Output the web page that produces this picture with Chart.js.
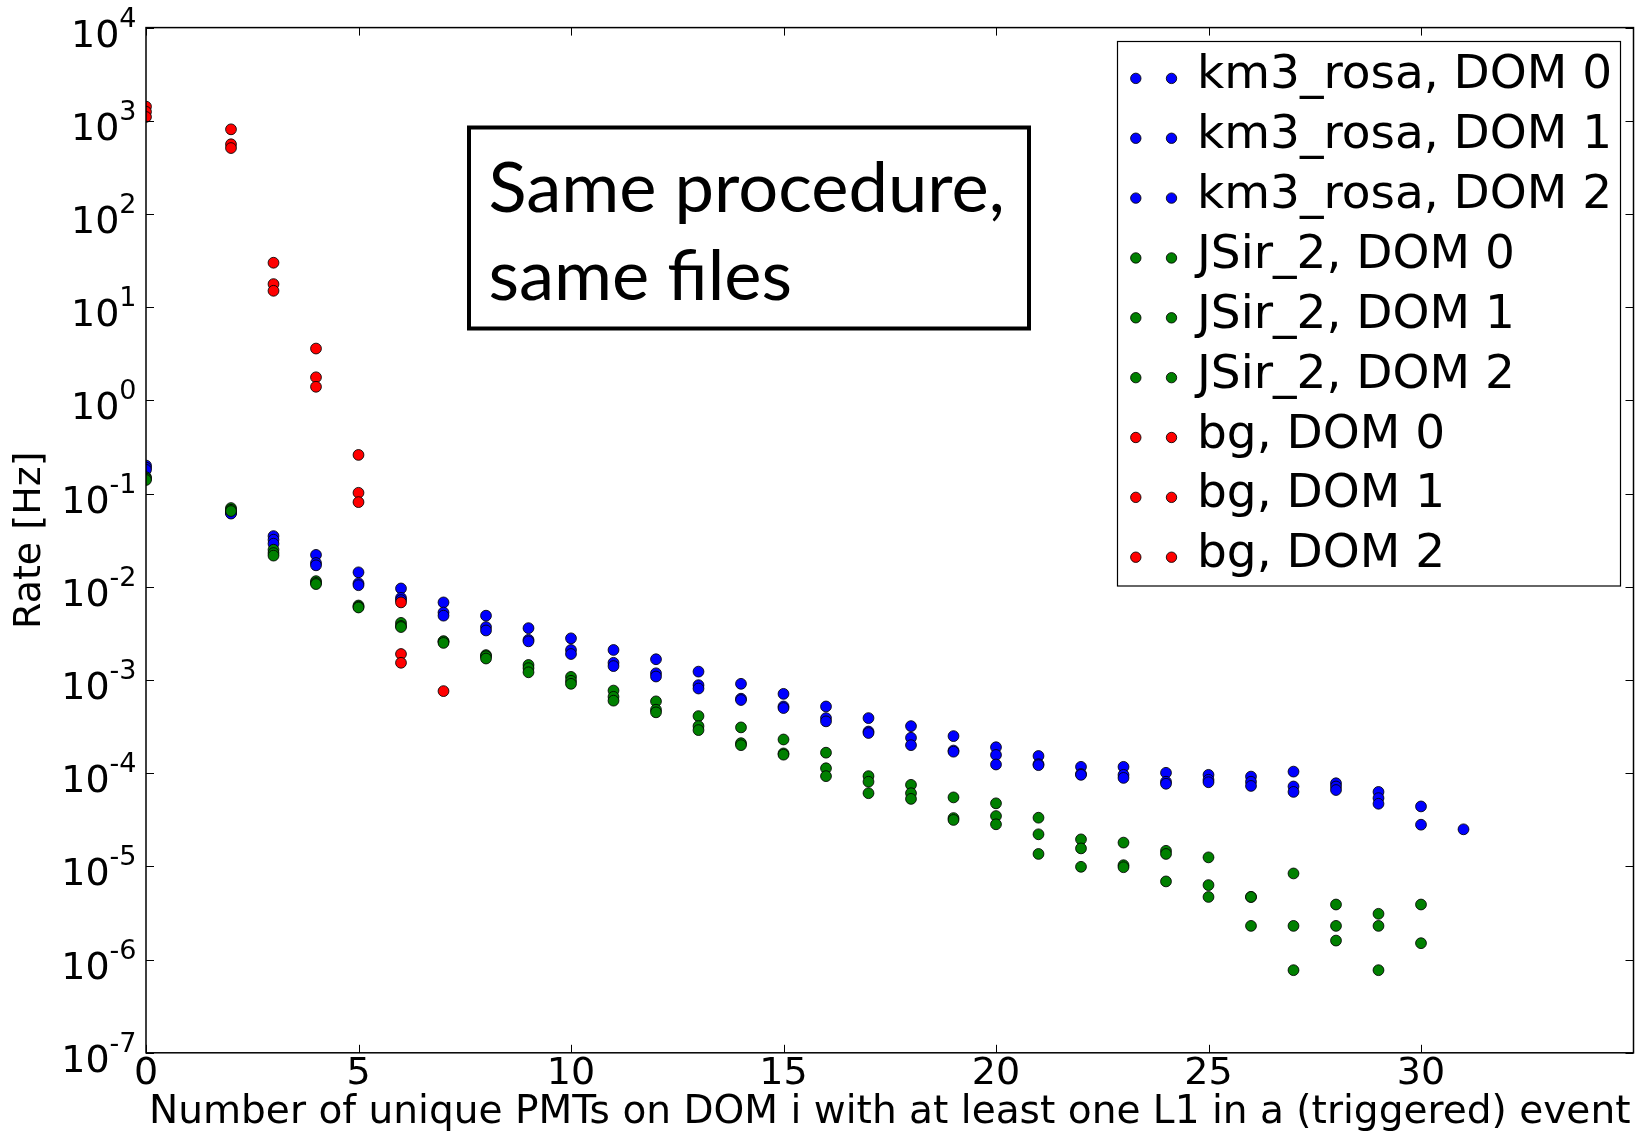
<!DOCTYPE html>
<html>
<head>
<meta charset="utf-8">
<script src="https://cdn.jsdelivr.net/npm/chart.js@4.4.1/dist/chart.umd.min.js"></script>
<style>
  html, body { margin: 0; padding: 0; background: #ffffff; }
  canvas { display: block; }
</style>
</head>
<body>
<canvas id="c" width="1645" height="1132"></canvas>
<script>
// ---------------- data ----------------
const nPMTs = [0, 2, 3, 4, 5, 6, 7, 8, 9, 10, 11, 12, 13, 14, 15, 16, 17, 18, 19, 20, 21, 22, 23, 24, 25, 26, 27, 28, 29, 30, 31];

const km3Dom0 = [0.20, 0.063, 0.035, 0.022, 0.0143, 0.0096, 0.0068, 0.0049, 0.0036, 0.0028, 0.0021, 0.00167, 0.00123, 0.00091, 0.00071, 0.00052, 0.00039, 0.00032, 0.00025, 0.00019, 0.000153, 0.000117, 0.000117, 0.000101, 0.000096, 0.000092, 0.000104, 0.000078, 0.000063, 0.000044, 0.000025];
const km3Dom1 = [0.19, 0.062, 0.032, 0.018, 0.0109, 0.0076, 0.0053, 0.0037, 0.0027, 0.0021, 0.00153, 0.00118, 0.00088, 0.00063, 0.00052, 0.00039, 0.00028, 0.00024, 0.000175, 0.000157, 0.000125, 0.000098, 0.000096, 0.000081, 0.000085, 0.000081, 0.000072, 0.000072, 0.000054, 0.000028, null];
const km3Dom2 = [0.18, 0.061, 0.029, 0.017, 0.0104, 0.0072, 0.0049, 0.0034, 0.0026, 0.0019, 0.00141, 0.00109, 0.00081, 0.00061, 0.00050, 0.00036, 0.00027, 0.00020, 0.00017, 0.000124, 0.000122, 0.000096, 0.000089, 0.000077, 0.000080, 0.000073, 0.000063, 0.000066, 0.000047, null, null];

const jsirDom0 = [0.15, 0.070, 0.025, 0.0115, 0.0063, 0.0041, 0.0026, 0.00185, 0.00145, 0.00108, 0.00077, 0.00059, 0.00041, 0.00031, 0.00023, 0.000166, 0.000093, 0.000075, 0.000055, 0.0000475, 0.0000333, 0.0000195, 0.000018, 0.0000147, 0.0000125, 0.0000047, 0.0000084, 0.0000039, 0.0000031, 0.0000039, null];
const jsirDom1 = [0.145, 0.067, 0.023, 0.011, 0.0061, 0.0038, 0.0026, 0.0018, 0.00134, 0.00098, 0.00066, 0.00048, 0.00032, 0.00021, 0.000163, 0.000113, 0.000081, 0.000061, 0.000033, 0.0000347, 0.0000221, 0.0000156, 0.0000103, 0.0000136, 0.0000063, 0.0000047, 0.0000023, 0.0000023, 0.0000023, 0.0000015, null];
const jsirDom2 = [0.14, 0.065, 0.0216, 0.0107, 0.0060, 0.0037, 0.0025, 0.0017, 0.00121, 0.00091, 0.00060, 0.00045, 0.00029, 0.00020, 0.000158, 0.000093, 0.000061, 0.000053, 0.0000315, 0.0000283, 0.0000136, 0.0000099, 0.0000098, 0.0000069, 0.0000047, 0.0000023, 0.00000077, 0.0000016, 0.00000077, null, null];

const bgDom0 = [1420, 810, 30, 3.6, 0.26, 0.0068, 0.00076, null, null, null, null, null, null, null, null, null, null, null, null, null, null, null, null, null, null, null, null, null, null, null, null];
const bgDom1 = [1250, 560, 17.7, 1.77, 0.102, 0.0019, null, null, null, null, null, null, null, null, null, null, null, null, null, null, null, null, null, null, null, null, null, null, null, null, null];
const bgDom2 = [1100, 510, 15, 1.4, 0.081, 0.00153, null, null, null, null, null, null, null, null, null, null, null, null, null, null, null, null, null, null, null, null, null, null, null, null, null];

const seriesLabels = ['km3_rosa, DOM 0', 'km3_rosa, DOM 1', 'km3_rosa, DOM 2',
                      'JSir_2, DOM 0', 'JSir_2, DOM 1', 'JSir_2, DOM 2',
                      'bg, DOM 0', 'bg, DOM 1', 'bg, DOM 2'];
const seriesValues = [km3Dom0, km3Dom1, km3Dom2, jsirDom0, jsirDom1, jsirDom2, bgDom0, bgDom1, bgDom2];
const seriesColors = ['#0000ff', '#0000ff', '#0000ff', '#008000', '#008000', '#008000', '#ff0000', '#ff0000', '#ff0000'];

const xTickValues = [0, 5, 10, 15, 20, 25, 30];
const yTickExponents = [-7, -6, -5, -4, -3, -2, -1, 0, 1, 2, 3, 4];
const xTitle = 'Number of unique PMTs on DOM i with at least one L1 in a (triggered) event';
const yTitle = 'Rate [Hz]';
const noteLines = ['Same procedure,', 'same files'];

// ---------------- datasets ----------------
const datasets = seriesLabels.map((label, i) => ({
  label: label,
  data: nPMTs.map((x, j) => ({ x: x, y: seriesValues[i][j] })).filter(p => p.y !== null),
  backgroundColor: seriesColors[i],
  borderColor: 'rgba(0,0,0,0.85)',
  borderWidth: 1,
  pointRadius: 5.4,
  pointHoverRadius: 5.4,
  order: 9 - i,
  clip: 0
}));

const FONT = "'DejaVu Sans', sans-serif";

const decor = {
  id: 'decor',
  afterDraw(chart) {
    const ctx = chart.ctx;
    const a = chart.chartArea;
    const xs = chart.scales.x, ys = chart.scales.y;
    ctx.save();
    // frame
    ctx.strokeStyle = '#000';
    ctx.lineWidth = 1.5;
    ctx.strokeRect(a.left, a.top, a.right - a.left, a.bottom - a.top);
    // inward ticks
    ctx.lineWidth = 1;
    const TL = 8;
    ctx.beginPath();
    xTickValues.forEach(v => {
      const px = Math.round(xs.getPixelForValue(v)) + 0.5;
      ctx.moveTo(px, a.bottom); ctx.lineTo(px, a.bottom - TL);
      ctx.moveTo(px, a.top); ctx.lineTo(px, a.top + TL);
    });
    yTickExponents.forEach(e => {
      const py = Math.round(ys.getPixelForValue(Math.pow(10, e))) + 0.5;
      ctx.moveTo(a.left, py); ctx.lineTo(a.left + TL, py);
      ctx.moveTo(a.right, py); ctx.lineTo(a.right - TL, py);
    });
    ctx.stroke();

    // y tick labels 10^e
    ctx.fillStyle = '#000';
    ctx.textBaseline = 'alphabetic';
    yTickExponents.forEach(e => {
      const py = ys.getPixelForValue(Math.pow(10, e));
      const ex = String(e);
      ctx.font = '27px ' + FONT;
      const ew = ctx.measureText(ex).width;
      const rightEdge = a.left - 9.5;
      const tenRight = rightEdge - ew;
      ctx.textAlign = 'left';
      ctx.fillText(ex, tenRight, py - 1);
      ctx.font = '38px ' + FONT;
      ctx.textAlign = 'right';
      ctx.fillText('10', tenRight, py + 19);
    });

    // legend
    const L = { left: 1117.5, top: 41.5, right: 1620.5, bottom: 586 };
    ctx.fillStyle = '#fff';
    ctx.fillRect(L.left, L.top, L.right - L.left, L.bottom - L.top);
    ctx.strokeStyle = '#000';
    ctx.lineWidth = 1.2;
    ctx.strokeRect(L.left, L.top, L.right - L.left, L.bottom - L.top);
    chart.data.datasets.forEach((ds, i) => {
      const cy = 78.4 + i * 59.85;
      [1135.8, 1171.5].forEach(cx => {
        ctx.beginPath();
        ctx.arc(cx, cy, 5.2, 0, Math.PI * 2);
        ctx.fillStyle = ds.backgroundColor;
        ctx.fill();
        ctx.lineWidth = 1;
        ctx.strokeStyle = 'rgba(0,0,0,0.85)';
        ctx.stroke();
      });
      ctx.fillStyle = '#000';
      ctx.font = '47px ' + FONT;
      ctx.textAlign = 'left';
      ctx.textBaseline = 'alphabetic';
      ctx.fillText(ds.label, 1197, cy + 10);
    });

    // note box
    ctx.strokeStyle = '#000';
    ctx.lineWidth = 4;
    ctx.strokeRect(469, 127.5, 560, 201);
    ctx.fillStyle = '#000';
    ctx.font = "100px Lato, 'Open Sans', sans-serif";
    const w = ctx.measureText(noteLines[0]).width;
    const size = 100 * 516 / w;
    ctx.font = size.toFixed(1) + "px Lato, 'Open Sans', sans-serif";
    ctx.textAlign = 'left';
    ctx.fillText(noteLines[0], 488.5, 211.7);
    ctx.fillText(noteLines[1], 488.5, 300);
    ctx.restore();
  }
};

new Chart(document.getElementById('c'), {
  type: 'scatter',
  data: { datasets: datasets },
  options: {
    responsive: false,
    animation: false,
    events: [],
    layout: { padding: { left: 0, top: 27.6, right: 11.5, bottom: 0 } },
    plugins: { legend: { display: false }, tooltip: { enabled: false } },
    scales: {
      x: {
        type: 'linear', min: 0, max: 35,
        afterBuildTicks: s => { s.ticks = xTickValues.map(v => ({ value: v })); },
        afterFit: s => { s.height = 79.2; },
        grid: { display: false, drawTicks: false },
        border: { display: false },
        ticks: { font: { family: FONT, size: 38, lineHeight: 1 }, color: '#000', padding: 2, maxRotation: 0, autoSkip: false },
        title: { display: true, text: xTitle, font: { family: FONT, size: 39.1, lineHeight: 1 }, color: '#000', padding: { top: 0, bottom: 0 } }
      },
      y: {
        type: 'logarithmic', min: 1e-7, max: 1e4,
        afterBuildTicks: s => { s.ticks = yTickExponents.map(e => ({ value: Math.pow(10, e) })); },
        afterFit: s => { s.width = 146; },
        grid: { display: false, drawTicks: false },
        border: { display: false },
        ticks: { display: false },
        title: { display: true, text: yTitle, font: { family: FONT, size: 38 }, color: '#000', padding: { top: 7.5, bottom: 0 } }
      }
    }
  },
  plugins: [decor]
});
</script>
</body>
</html>
